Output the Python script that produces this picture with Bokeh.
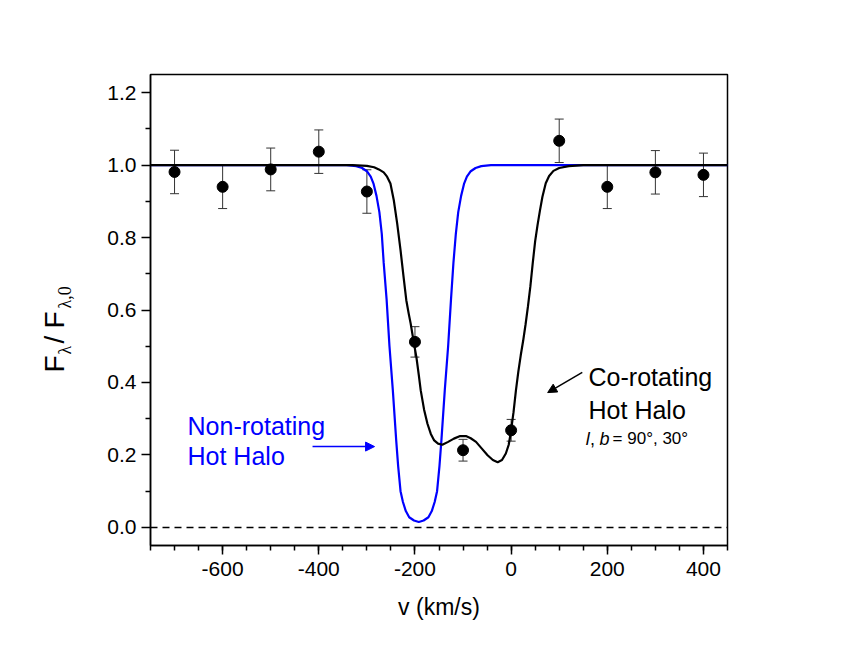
import math
from bokeh.plotting import figure
from bokeh.layouts import row
from bokeh.models import (Range1d, FixedTicker, Whisker, ColumnDataSource, Label,
                          Arrow, NormalHead, Span, TeeHead)
from bokeh.core.properties import value
from bokeh.embed import file_html
from bokeh.resources import INLINE

# ---------------- data ----------------
velocity = [-700, -600, -500, -400, -300, -200, -100, 0, 100, 200, 300, 400]
flux = [0.981, 0.940, 0.988, 1.037, 0.927, 0.512, 0.213, 0.268, 1.067, 0.940, 0.980, 0.973]
flux_err = [0.060, 0.060, 0.059, 0.060, 0.060, 0.042, 0.030, 0.030, 0.060, 0.060, 0.060, 0.060]

# non-rotating hot halo model (blue)
nonrot_v = [-750, -342, -322, -310, -300, -292, -286, -280, -274, -269, -265, -259, -253,
            -246, -239, -235, -230, -225, -219, -212, -202, -192, -182, -172, -165, -159,
            -154, -149, -145, -138, -131, -125, -120, -115, -110, -104, -98, -92, -84, -74,
            -62, -42, 450]
nonrot_f = [1.0, 1.0, 0.997, 0.992, 0.983, 0.968, 0.948, 0.915, 0.87, 0.81, 0.73, 0.63, 0.50,
            0.378, 0.24, 0.17, 0.10, 0.07, 0.045, 0.028, 0.019, 0.015, 0.019, 0.028, 0.045, 0.07,
            0.10, 0.17, 0.24, 0.378, 0.50, 0.63, 0.73, 0.81, 0.87, 0.915, 0.948, 0.968, 0.983, 0.992,
            0.997, 1.0, 1.0]

# co-rotating hot halo model (black)
corot_v = [-750, -330, -300, -285, -275, -265, -258, -251, -244, -237, -230, -224, -218, -213,
           -209, -202, -197, -192, -188, -181, -174, -167, -160, -152, -143, -131, -119, -106,
           -94, -84, -73, -60, -49, -38, -28, -19, -11, -5, -1, 5, 10, 15, 20, 25, 30, 35, 40,
           45, 50, 55, 60, 65, 72, 79, 88, 100, 120, 150, 450]
corot_f = [1.0, 1.0, 0.998, 0.994, 0.988, 0.980, 0.968, 0.949, 0.903, 0.839, 0.765, 0.695, 0.627,
           0.590, 0.563, 0.507, 0.470, 0.420, 0.378, 0.325, 0.286, 0.258, 0.240, 0.231, 0.228,
           0.236, 0.245, 0.252, 0.252, 0.246, 0.236, 0.216, 0.199, 0.186, 0.180, 0.186, 0.204,
           0.228, 0.259, 0.318, 0.378, 0.430, 0.475, 0.515, 0.560, 0.610, 0.665, 0.730, 0.790,
           0.835, 0.875, 0.912, 0.950, 0.970, 0.984, 0.992, 0.997, 1.0, 1.0]

x_major = [-600, -400, -200, 0, 200, 400]
x_labels = ["-600", "-400", "-200", "0", "200", "400"]
y_major = [0.0, 0.2, 0.4, 0.6, 0.8, 1.0, 1.2]
y_labels = ["0.0", "0.2", "0.4", "0.6", "0.8", "1.0", "1.2"]

FONT = "Liberation Sans"
SERIF = "Liberation Serif"

H = 638
LEFT_W = 80

# ---------------- main plot ----------------
p = figure(width=830 - LEFT_W, height=H, output_backend="svg", toolbar_location=None,
           x_range=Range1d(-750, 450), y_range=Range1d(-0.05, 1.25),
           min_border_left=150 - LEFT_W, min_border_right=103, min_border_top=74,
           min_border_bottom=93)

p.background_fill_color = "white"
p.border_fill_color = "white"
p.outline_line_color = "black"
p.outline_line_width = 1.5
p.grid.visible = False

p.xaxis.ticker = FixedTicker(ticks=x_major, minor_ticks=[-750 + 50 * i for i in range(25)])
p.xaxis.major_label_overrides = {v: s for v, s in zip(x_major, x_labels)}
p.xaxis.axis_label = "v (km/s)"
p.xaxis.axis_label_text_font = FONT
p.xaxis.axis_label_text_font_style = "normal"
p.xaxis.axis_label_text_font_size = "23px"
p.xaxis.axis_label_standoff = 15
p.xaxis.major_label_text_font = FONT
p.xaxis.major_label_text_font_size = "21px"
p.xaxis.major_label_standoff = 7

p.yaxis.ticker = FixedTicker(ticks=y_major, minor_ticks=[0.1, 0.3, 0.5, 0.7, 0.9, 1.1])
p.yaxis.major_label_overrides = {v: s for v, s in zip(y_major, y_labels)}
p.yaxis.major_label_text_font = FONT
p.yaxis.major_label_text_font_size = "21px"
p.yaxis.major_label_standoff = 5

for ax in (p.xaxis[0], p.yaxis[0]):
    ax.axis_line_color = "black"
    ax.axis_line_width = 1.5
    ax.major_tick_line_color = "black"
    ax.major_tick_line_width = 1.5
    ax.minor_tick_line_color = "black"
    ax.minor_tick_line_width = 1.5
    ax.major_tick_out = 9
    ax.major_tick_in = 0
    ax.minor_tick_out = 5
    ax.minor_tick_in = 0
    ax.major_label_text_color = "black"
    ax.axis_label_text_color = "black"

p.add_layout(Span(location=0.0, dimension="width", line_color="black",
                  line_width=1.5, line_dash="7 5"))

p.line(nonrot_v, nonrot_f, line_color="#0000ff", line_width=2.2)
p.line(corot_v, corot_f, line_color="black", line_width=2.2)

src = ColumnDataSource(dict(
    v=velocity, f=flux,
    lo=[a - b for a, b in zip(flux, flux_err)],
    hi=[a + b for a, b in zip(flux, flux_err)],
))
p.add_layout(Whisker(source=src, base="v", upper="hi", lower="lo",
                     line_color="#333333", line_width=1,
                     upper_head=TeeHead(size=9, line_color="#333333", line_width=1),
                     lower_head=TeeHead(size=9, line_color="#333333", line_width=1)))
p.scatter("v", "f", source=src, size=11, marker="circle", fill_color="black", line_color="black")


def lab(x, y, text, size, color="black", font=FONT, style="normal"):
    p.add_layout(Label(x=x, y=y, text=text, text_font=font, text_font_size=size,
                       text_font_style=style, text_color=color, text_align="left",
                       text_baseline="alphabetic"))


lab(-673, 0.281, "Non-rotating", "25px", color="#0000ff")
lab(-673, 0.196, "Hot Halo", "25px", color="#0000ff")
lab(161, 0.414, "Co-rotating", "25px")
lab(161, 0.325, "Hot Halo", "25px")
lab(155, 0.245, "l", "18px", style="italic")
lab(164, 0.245, ",", "18px")
lab(184, 0.245, "b", "18px", style="italic")
lab(211, 0.245, "= 90°, 30°", "17px")

p.add_layout(Arrow(end=NormalHead(size=9, fill_color="#0000ff", line_color="#0000ff"),
                   x_start=-413, y_start=0.223, x_end=-284, y_end=0.223,
                   line_color="#0000ff", line_width=1.5))
p.add_layout(Arrow(end=NormalHead(size=9, fill_color="black", line_color="black"),
                   x_start=148, y_start=0.428, x_end=76, y_end=0.372,
                   line_color="black", line_width=1.5))

# ---------------- y-axis title panel (F_lambda / F_lambda,0) ----------------
left = figure(width=LEFT_W, height=H, output_backend="svg", toolbar_location=None,
              x_range=Range1d(0, LEFT_W), y_range=p.y_range,
              x_axis_location=None, y_axis_location=None, min_border=0)
left.outline_line_color = None
left.grid.visible = False
left.background_fill_color = "white"
left.border_fill_color = "white"

rot = math.pi / 2
title_parts = ["F", "λ", "/", "F", "λ,0"]
part_x = [54, 64, 54, 54, 64]
part_y = [0.4275, 0.4772, 0.5075, 0.5489, 0.6041]
part_size = ["28px", "18px", "28px", "28px", "18px"]
part_font = [FONT, SERIF, FONT, FONT, SERIF]
for t, xx, yy, sz, fn in zip(title_parts, part_x, part_y, part_size, part_font):
    left.text(x=[xx], y=[yy], text=[t], angle=rot, text_font=value(fn),
              text_font_size=value(sz), text_align="left", text_baseline="alphabetic",
              text_color="black")

layout = row(left, p)
open("out.html", "w").write(file_html(layout, INLINE))
